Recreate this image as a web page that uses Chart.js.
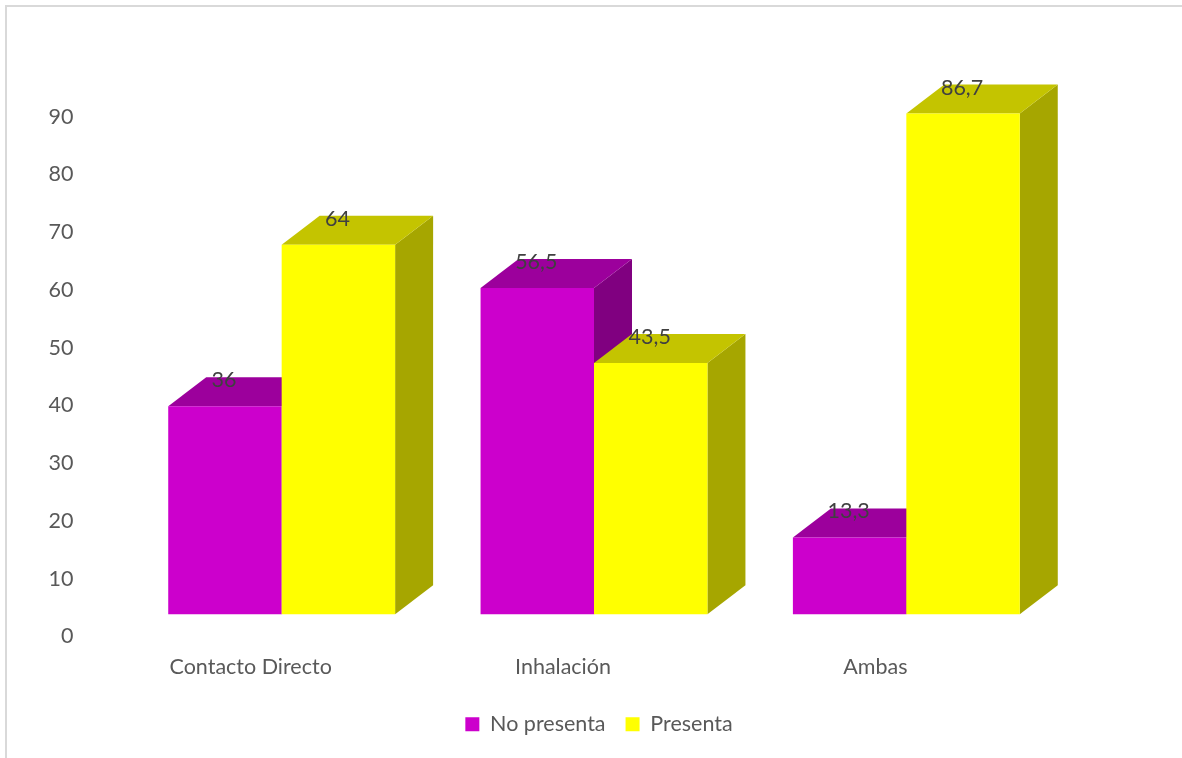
<!DOCTYPE html>
<html>
<head>
<meta charset="utf-8">
<title>Chart</title>
<script src="https://cdn.jsdelivr.net/npm/chart.js@4"></script>
<style>
  html, body { margin: 0; padding: 0; background: #fff; overflow: hidden; }
  canvas { display: block; }
  #frame { position: absolute; left: 5px; top: 5px; width: 1177px; height: 753px;
           border-left: 2px solid #d9d9d9; border-top: 2px solid #d9d9d9; box-sizing: border-box; }
</style>
</head>
<body>
<canvas id="chart" width="1182" height="758"></canvas>
<div id="frame"></div>
<script>
const categories = ['Contacto Directo', 'Inhalación', 'Ambas'];
const noPresenta = [36, 56.5, 13.3];
const presenta = [64, 43.5, 86.7];
const yTicks = [0, 10, 20, 30, 40, 50, 60, 70, 80, 90];

const FONT = 'Lato, Carlito, sans-serif';
const FONT_SIZE = 21.5;
const DEPTH_X = 38;
const DEPTH_Y = 29;

function poly(ctx, color, pts) {
    ctx.fillStyle = color;
    ctx.beginPath();
    pts.forEach((p, i) => i ? ctx.lineTo(p[0], p[1]) : ctx.moveTo(p[0], p[1]));
    ctx.closePath();
    ctx.fill();
}

// fake 3D bars: left series first so the right one covers it, then the value labels.
// returning false skips chart.js' own dataset pass, which would paint them the other way round
const bars3d = {
    id: 'bars3d',
    beforeDatasetsDraw(chart) {
        const ctx = chart.ctx;
        ctx.save();
        chart.data.datasets.forEach((ds, i) => {
            chart.getDatasetMeta(i).data.forEach(bar => {
                const l = bar.x - bar.width / 2;
                const r = bar.x + bar.width / 2;
                poly(ctx, ds.sideColor, [[r, bar.y], [r + DEPTH_X, bar.y - DEPTH_Y], [r + DEPTH_X, bar.base - DEPTH_Y], [r, bar.base]]);
                poly(ctx, ds.topColor, [[l, bar.y], [l + DEPTH_X, bar.y - DEPTH_Y], [r + DEPTH_X, bar.y - DEPTH_Y], [r, bar.y]]);
                bar.draw(ctx);
            });
        });
        ctx.font = FONT_SIZE + 'px ' + FONT;
        ctx.fillStyle = '#404040';
        ctx.textAlign = 'center';
        ctx.textBaseline = 'middle';
        chart.data.datasets.forEach((ds, i) => {
            chart.getDatasetMeta(i).data.forEach((bar, j) => {
                ctx.fillText(String(ds.data[j]).replace('.', ','), bar.x - 1, bar.y - 26);
            });
        });
        ctx.restore();
        return false;
    }
};

new Chart(document.getElementById('chart'), {
    type: 'bar',
    data: {
        labels: categories,
        datasets: [
            { label: 'No presenta', data: noPresenta, backgroundColor: '#cc00cc', topColor: '#9c009c', sideColor: '#800080', yAxisID: 'y2' },
            { label: 'Presenta', data: presenta, backgroundColor: '#ffff00', topColor: '#c4c400', sideColor: '#a6a600', yAxisID: 'y2' }
        ]
    },
    options: {
        responsive: false,
        animation: false,
        layout: { autoPadding: false, padding: { left: 16, top: 59, right: 0, bottom: 13 } },
        datasets: { bar: { categoryPercentage: 0.7264, barPercentage: 1 } },
        scales: {
            x: {
                grid: { display: false },
                border: { display: false },
                ticks: { color: '#595959', font: { family: FONT, size: FONT_SIZE }, padding: 10, labelOffset: -31, maxRotation: 0 },
                afterFit: s => { s.height = 57; }
            },
            y: {
                min: 0,
                max: 100,
                afterBuildTicks: s => { s.ticks = yTicks.map(v => ({ value: v })); },
                grid: { display: false },
                border: { display: false },
                ticks: { color: '#595959', font: { family: FONT, size: FONT_SIZE }, padding: 44 },
                afterFit: s => { s.width = 109.5; }
            },
            // bars stand 22px above the labelled zero, as in the original 3D plot
            y2: {
                position: 'right',
                min: -3.85,
                max: 96.15,
                grid: { display: false },
                border: { display: false },
                ticks: { display: false },
                afterFit: s => { s.width = 119.5; }
            }
        },
        plugins: {
            tooltip: { enabled: false },
            legend: {
                position: 'bottom',
                labels: { boxWidth: 14, boxHeight: 14, color: '#595959', font: { family: FONT, size: FONT_SIZE }, padding: 20 }
            }
        }
    },
    plugins: [bars3d]
});
</script>
</body>
</html>
